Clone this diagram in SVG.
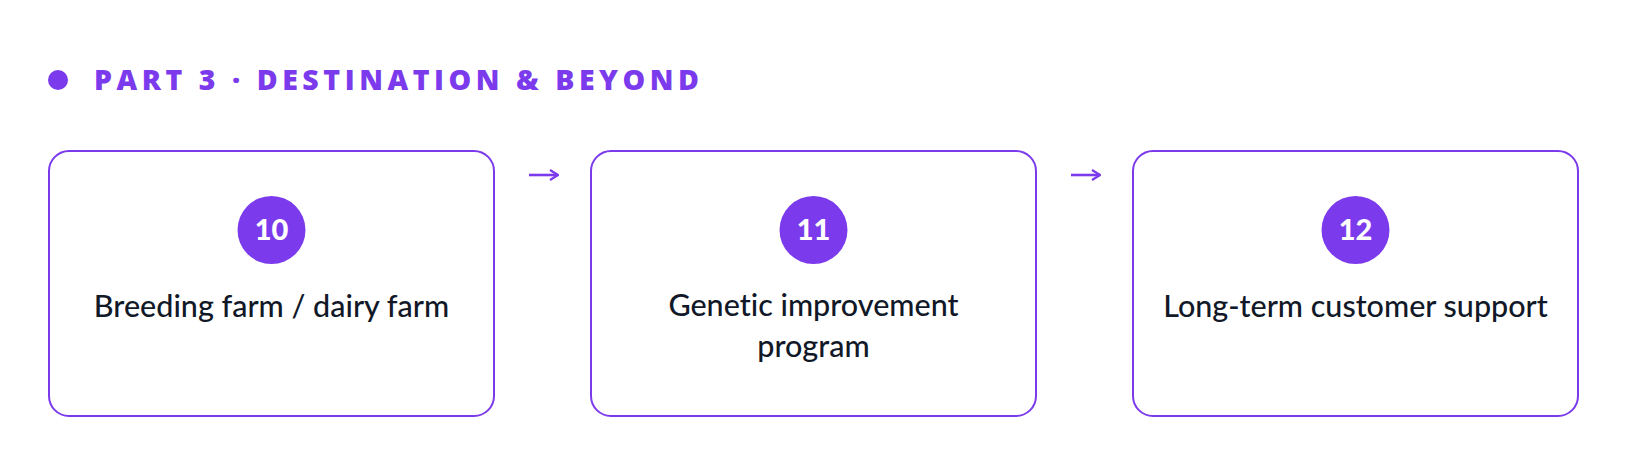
<svg xmlns="http://www.w3.org/2000/svg" width="1632" height="476" viewBox="0 0 1632 476">
  <style>
    .hdr { font-family: "Open Sans", "Noto Sans", sans-serif; font-weight: 800; font-size: 28.5px; fill: #7c3aed; }
    .box { fill: #ffffff; stroke: #7c3aed; stroke-width: 2; }
    .badge { fill: #7c3aed; }
    .num { font-family: "Lato", "Noto Sans", sans-serif; font-weight: 900; font-size: 29px; fill: #ffffff; text-anchor: middle; }
    .lbl { font-family: "Lato", "Noto Sans", sans-serif; font-weight: 500; font-size: 30.5px; fill: #111827; text-anchor: middle; font-variant-ligatures: none; }
    .conn { fill: none; stroke: #7c3aed; stroke-width: 2.6; }
  </style>
  <defs>
    <marker id="ah" viewBox="0 0 10 12" refX="9" refY="6" markerWidth="10" markerHeight="12" markerUnits="userSpaceOnUse" orient="auto">
      <path d="M1,1 L9,6 L1,11" fill="none" stroke="#7c3aed" stroke-width="2.2"/>
    </marker>
  </defs>
  <rect width="1632" height="476" fill="#ffffff"/>

  <g id="header">
    <circle cx="58" cy="80" r="10" fill="#7c3aed"/>
    <text class="hdr" x="94" y="89.5" textLength="605" lengthAdjust="spacing">PART 3 · DESTINATION &amp; BEYOND</text>
  </g>

  <g id="connectors">
    <path class="conn" d="M529,175 L558,175" marker-end="url(#ah)"/>
    <path class="conn" d="M1071,175 L1100,175" marker-end="url(#ah)"/>
  </g>

  <g id="node-10">
    <rect class="box" x="49" y="151" width="445" height="265" rx="20"/>
    <circle class="badge" cx="271.5" cy="230" r="34"/>
    <text class="num" x="271.5" y="240">10</text>
    <text class="lbl" x="271.5" y="317">Breeding farm / dairy farm</text>
  </g>

  <g id="node-11">
    <rect class="box" x="591" y="151" width="445" height="265" rx="20"/>
    <circle class="badge" cx="813.5" cy="230" r="34"/>
    <text class="num" x="813.5" y="240">11</text>
    <text class="lbl" x="813.5" y="316">Genetic improvement</text>
    <text class="lbl" x="813.5" y="357">program</text>
  </g>

  <g id="node-12">
    <rect class="box" x="1133" y="151" width="445" height="265" rx="20"/>
    <circle class="badge" cx="1355.5" cy="230" r="34"/>
    <text class="num" x="1355.5" y="240">12</text>
    <text class="lbl" x="1355.5" y="317">Long-term customer support</text>
  </g>
</svg>
